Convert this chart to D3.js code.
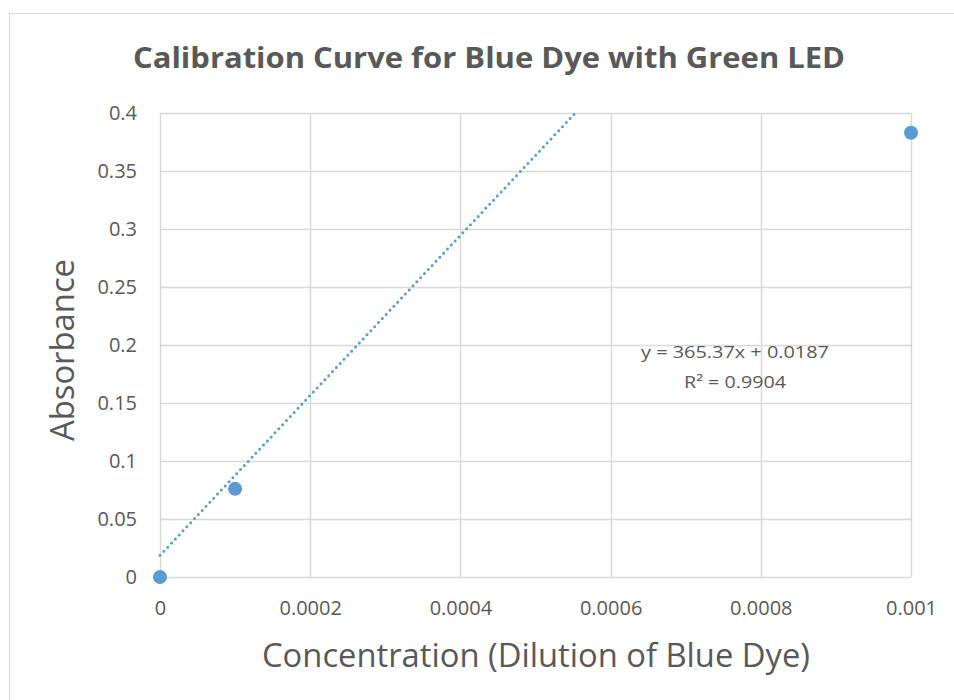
<!DOCTYPE html>
<html>
<head>
<meta charset="utf-8">
<script src="https://cdn.jsdelivr.net/npm/d3@7"></script>
<style>
  body { margin: 0; background: #fff; }
  text { font-family: "Open Sans", "Liberation Sans", sans-serif; fill: #595959; }
</style>
</head>
<body>
<div id="canvas"></div>
<script>
const w = 954, h = 700;

// data
const concentration = [0, 0.0001, 0.001];
const absorbance = [0, 0.076, 0.383];
// trendline as drawn in the chart (start and where it leaves the plot)
const trendX = [0, 0.000553];
const trendY = [0.0187, 0.4];
const xTicks = [0, 0.0002, 0.0004, 0.0006, 0.0008, 0.001];
const xTickLabels = ["0", "0.0002", "0.0004", "0.0006", "0.0008", "0.001"];
const yTicks = [0, 0.05, 0.1, 0.15, 0.2, 0.25, 0.3, 0.35, 0.4];
const yTickLabels = ["0", "0.05", "0.1", "0.15", "0.2", "0.25", "0.3", "0.35", "0.4"];
const equationLines = ["y = 365.37x + 0.0187", "R² = 0.9904"];

const margin = {left: 160, right: 43, top: 113, bottom: 123};
const grid = "#d9d9d9";
const blue = "#5b9bd5";

let svg = d3.select("#canvas")
            .append("svg")
                .attr("width", w)
                .attr("height", h)
                .attr("viewBox", [0, 0, w, h]);

// chart border
svg.append("rect")
    .attr("x", 9.5).attr("y", 13.5)
    .attr("width", w + 20).attr("height", h + 20)
    .attr("fill", "none")
    .attr("stroke", grid);

let x = d3.scaleLinear()
    .domain([0, 0.001])
    .range([margin.left, w - margin.right]);
let y = d3.scaleLinear()
    .domain([0, 0.4])
    .range([h - margin.bottom, margin.top]);

// gridlines
let g = svg.append("g");
g.selectAll(".vgrid")
    .data(xTicks)
  .enter().append("line")
    .attr("x1", d => Math.round(x(d)) + 0.5)
    .attr("x2", d => Math.round(x(d)) + 0.5)
    .attr("y1", y(0.4)).attr("y2", y(0))
    .attr("stroke", grid).attr("stroke-width", 1.5);
g.selectAll(".hgrid")
    .data(yTicks)
  .enter().append("line")
    .attr("x1", x(0)).attr("x2", x(0.001))
    .attr("y1", d => Math.round(y(d)) + 0.5)
    .attr("y2", d => Math.round(y(d)) + 0.5)
    .attr("stroke", grid).attr("stroke-width", 1.5);

// tick labels
let xAxis = d3.axisBottom(x)
    .tickValues(xTicks)
    .tickFormat((d, i) => xTickLabels[i])
    .tickSize(0)
    .tickPadding(24);
let gX = svg.append("g")
    .attr("transform", "translate(0," + y(0) + ")")
    .call(xAxis);
gX.select(".domain").remove();
gX.selectAll("text").style("font-size", "20px").style("font-family", "'Open Sans'").attr("fill", "#595959");

let yAxis = d3.axisLeft(y)
    .tickValues(yTicks)
    .tickFormat((d, i) => yTickLabels[i])
    .tickSize(0)
    .tickPadding(23);
let gY = svg.append("g")
    .attr("transform", "translate(" + x(0) + ",0)")
    .call(yAxis);
gY.select(".domain").remove();
gY.selectAll("text").style("font-size", "20px").style("font-family", "'Open Sans'").attr("fill", "#595959");

// trendline
svg.append("line")
    .attr("x1", x(trendX[0])).attr("y1", y(trendY[0]))
    .attr("x2", x(trendX[1])).attr("y2", y(trendY[1]))
    .attr("stroke", blue)
    .attr("stroke-width", 3)
    .attr("stroke-linecap", "round")
    .attr("stroke-dasharray", "0 5.6");

// points
svg.selectAll("circle")
    .data(concentration)
  .enter().append("circle")
    .attr("cx", d => x(d))
    .attr("cy", (d, i) => y(absorbance[i]))
    .attr("r", 7)
    .attr("fill", blue);

// equation label
svg.selectAll(".eq")
    .data(equationLines)
  .enter().append("text")
    .attr("x", 735)
    .attr("y", (d, i) => 358 + i * 30)
    .attr("text-anchor", "middle")
    .style("font-size", "17px")
    .attr("textLength", (d, i) => i == 0 ? 188 : 102)
    .attr("lengthAdjust", "spacingAndGlyphs")
    .text(d => d);

// title
svg.append("text")
    .attr("x", 489).attr("y", 68)
    .attr("text-anchor", "middle")
    .style("font-size", "29px")
    .style("font-weight", "bold")
    .attr("textLength", 712)
    .attr("lengthAdjust", "spacingAndGlyphs")
    .text("Calibration Curve for Blue Dye with Green LED");

// axis titles
svg.append("text")
    .attr("x", 536).attr("y", 667)
    .attr("text-anchor", "middle")
    .style("font-size", "32px")
    .attr("textLength", 548)
    .attr("lengthAdjust", "spacingAndGlyphs")
    .text("Concentration (Dilution of Blue Dye)");

svg.append("text")
    .attr("transform", "translate(74,350) rotate(-90)")
    .attr("text-anchor", "middle")
    .style("font-size", "32px")
    .attr("textLength", 182)
    .attr("lengthAdjust", "spacingAndGlyphs")
    .text("Absorbance");
</script>
</body>
</html>
